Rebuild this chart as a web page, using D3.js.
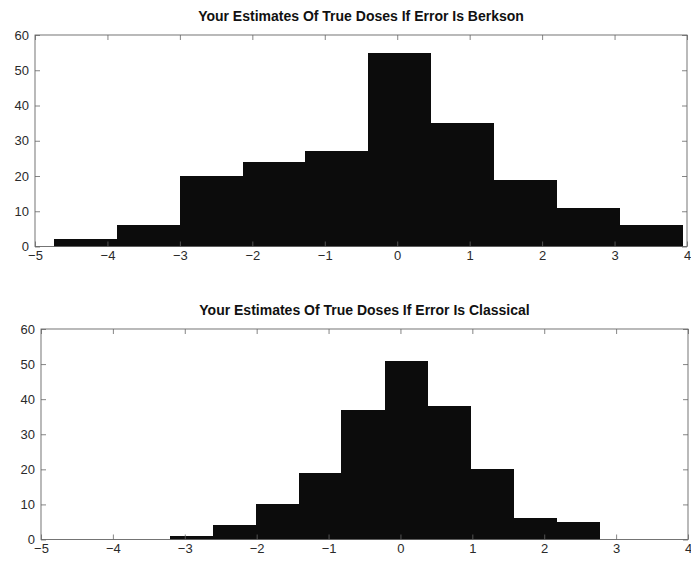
<!DOCTYPE html>
<html>
<head>
<meta charset="utf-8">
<script src="https://cdn.jsdelivr.net/npm/d3@7"></script>
<style>
  html, body { margin: 0; padding: 0; background: #fff; }
  svg { display: block; }
  .tick text { font-family: "Liberation Sans", Arial, sans-serif; font-size: 13px; fill: #2a2a2a; }
  .title { font-family: "Liberation Sans", Arial, sans-serif; font-size: 14px; font-weight: bold; fill: #111; }
</style>
</head>
<body>
<svg id="chart" width="691" height="565"></svg>
<script>
// Tick values shared by both histograms
const xTicks = [-5, -4, -3, -2, -1, 0, 1, 2, 3, 4];
const yTicks = [0, 10, 20, 30, 40, 50, 60];

// Berkson error: bin edges and counts
const berksonEdges  = [-4.74, -3.87, -3.00, -2.13, -1.27, -0.40, 0.47, 1.34, 2.21, 3.08, 3.95];
const berksonCounts = [2, 6, 20, 24, 27, 55, 35, 19, 11, 6];

// Classical error: bin edges and counts
const classicalEdges  = [-3.21, -2.61, -2.01, -1.41, -0.82, -0.22, 0.38, 0.98, 1.58, 2.18, 2.78];
const classicalCounts = [1, 4, 10, 19, 37, 51, 38, 20, 6, 5];

const titles = [
  "Your Estimates Of True Doses If Error Is Berkson",
  "Your Estimates Of True Doses If Error Is Classical"
];

const svg = d3.select("#chart");

function drawPanel(box, edges, counts, title) {
  const x = d3.scaleLinear().domain([-5, 4]).range([box.left, box.right]);
  const y = d3.scaleLinear().domain([0, 60]).range([box.bottom, box.top]);
  const g = svg.append("g");

  // histogram bars
  g.selectAll("rect.bar")
    .data(counts)
    .join("rect")
    .attr("class", "bar")
    .attr("x", (d, i) => x(edges[i]))
    .attr("width", (d, i) => x(edges[i + 1]) - x(edges[i]))
    .attr("y", d => y(d))
    .attr("height", d => y(0) - y(d))
    .attr("fill", "#0c0c0c")
    .attr("shape-rendering", "crispEdges");

  const styleAxis = sel => {
    sel.select(".domain").remove();
    sel.selectAll(".tick line").attr("stroke", "#666").attr("stroke-width", 0.8);
  };

  // bottom axis with inward ticks
  g.append("g")
    .attr("transform", `translate(0,${box.bottom})`)
    .call(d3.axisBottom(x).tickValues(xTicks).tickSizeInner(-5).tickSizeOuter(0).tickPadding(4))
    .call(styleAxis);

  // top axis: ticks only
  g.append("g")
    .attr("transform", `translate(0,${box.top})`)
    .call(d3.axisTop(x).tickValues(xTicks).tickSizeInner(-5).tickSizeOuter(0).tickFormat(""))
    .call(styleAxis);

  // left axis with labels
  g.append("g")
    .attr("transform", `translate(${box.left},0)`)
    .call(d3.axisLeft(y).tickValues(yTicks).tickSizeInner(-5).tickSizeOuter(0).tickPadding(6))
    .call(styleAxis);

  // right axis: ticks only
  g.append("g")
    .attr("transform", `translate(${box.right},0)`)
    .call(d3.axisRight(y).tickValues(yTicks).tickSizeInner(-5).tickSizeOuter(0).tickFormat(""))
    .call(styleAxis);

  // frame
  g.append("rect")
    .attr("x", box.left).attr("y", box.top)
    .attr("width", box.right - box.left).attr("height", box.bottom - box.top)
    .attr("fill", "none").attr("stroke", "#666").attr("stroke-width", 0.9);

  g.append("text")
    .attr("class", "title")
    .attr("x", (box.left + box.right) / 2)
    .attr("y", box.top - 14)
    .attr("text-anchor", "middle")
    .text(title);
}

drawPanel({ left: 35, right: 687, top: 35, bottom: 246.5 }, berksonEdges, berksonCounts, titles[0]);
drawPanel({ left: 41, right: 688, top: 329, bottom: 539.5 }, classicalEdges, classicalCounts, titles[1]);
</script>
</body>
</html>
